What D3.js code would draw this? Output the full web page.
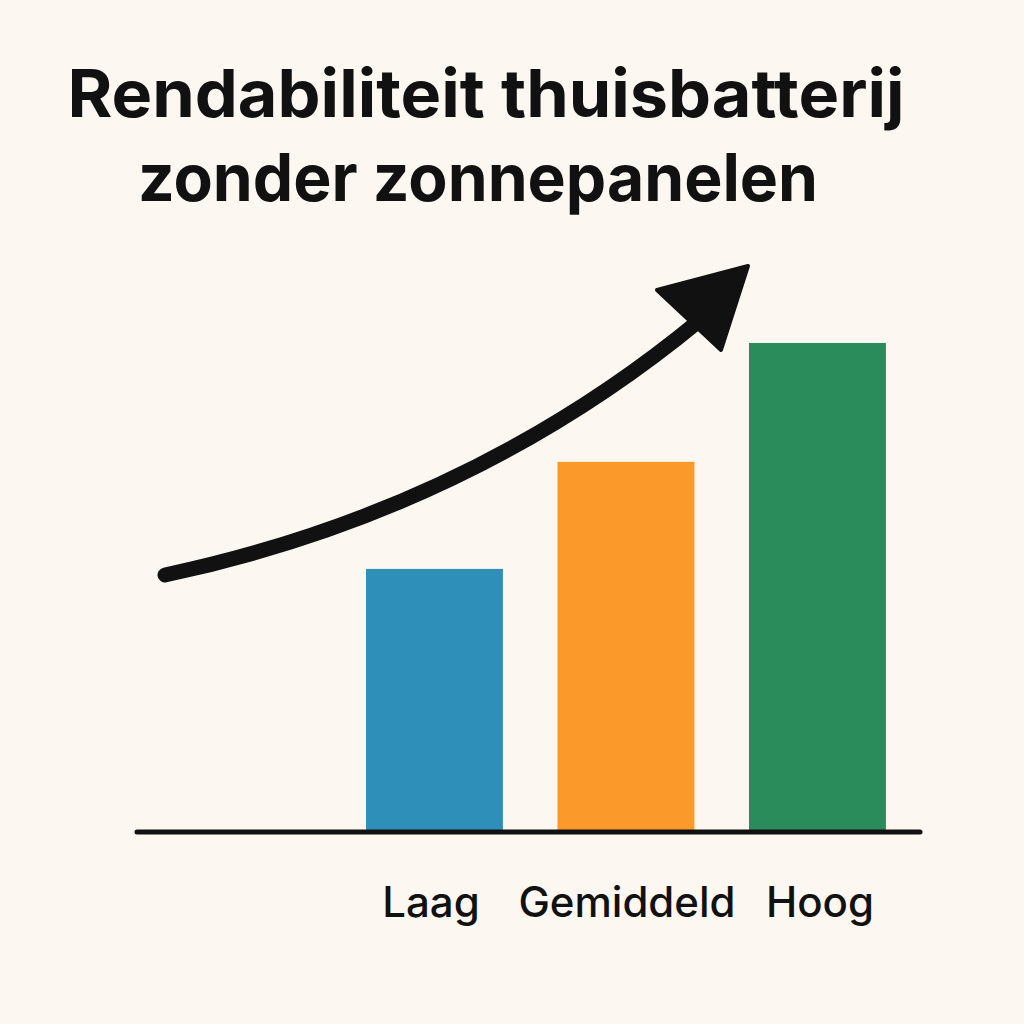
<!DOCTYPE html>
<html><head><meta charset="utf-8">
<script src="https://cdn.jsdelivr.net/npm/d3@7"></script>
<style>body{margin:0;background:#fdf7f2}</style></head>
<body><svg id="c" width="1024" height="1024"></svg>
<script>
const categories = ["Laag","Gemiddeld","Hoog"];
const values = [53.8, 75.7, 100];
const colors = ["#2e8fb8","#fb9a2b","#2a8c5a"];
const titleLines = ["Rendabiliteit thuisbatterij","zonder zonnepanelen"];
const titleWidths = [837, 680];

const svg = d3.select("#c");
svg.append("rect").attr("width",1024).attr("height",1024).attr("fill","#fdf7f2");
const x = d3.scaleBand().domain(categories).range([338.7,913.2]).paddingInner(0.285).paddingOuter(0.1425);
const y = d3.scaleLinear().domain([0,100]).range([832,343]);

svg.selectAll("text.t").data(titleLines).enter().append("text")
 .attr("x",(d,i)=>i?478:486).attr("y",(d,i)=>117+i*84).attr("text-anchor","middle")
 .attr("font-family","Inter, 'Open Sans', sans-serif").attr("font-weight",700)
 .attr("font-size",66).attr("fill","#111")
 .attr("textLength",(d,i)=>titleWidths[i]).attr("lengthAdjust","spacingAndGlyphs").text(d=>d);

svg.selectAll("rect.b").data(values).enter().append("rect")
 .attr("x",(d,i)=>x(categories[i])).attr("width",x.bandwidth())
 .attr("y",d=>y(d)).attr("height",d=>y(0)-y(d)).attr("fill",(d,i)=>colors[i]);

svg.append("line").attr("x1",137).attr("x2",920).attr("y1",y(0)).attr("y2",y(0))
 .attr("stroke","#111").attr("stroke-width",5).attr("stroke-linecap","round");

svg.selectAll("text.l").data(categories).enter().append("text")
 .attr("x",(d,i)=>[431,627,820][i]).attr("y",917).attr("text-anchor","middle")
 .attr("font-family","Inter, 'Open Sans', sans-serif").attr("font-weight",500)
 .attr("font-size",42).attr("fill","#111").text(d=>d);

svg.append("path").attr("d","M165,575 Q470,510 700,320").attr("fill","none")
 .attr("stroke","#111").attr("stroke-width",15).attr("stroke-linecap","round");
svg.append("path").attr("d","M748,266 L657,290 L721,350 Z").attr("fill","#111")
 .attr("stroke","#111").attr("stroke-width",4).attr("stroke-linejoin","round");
</script></body></html>
